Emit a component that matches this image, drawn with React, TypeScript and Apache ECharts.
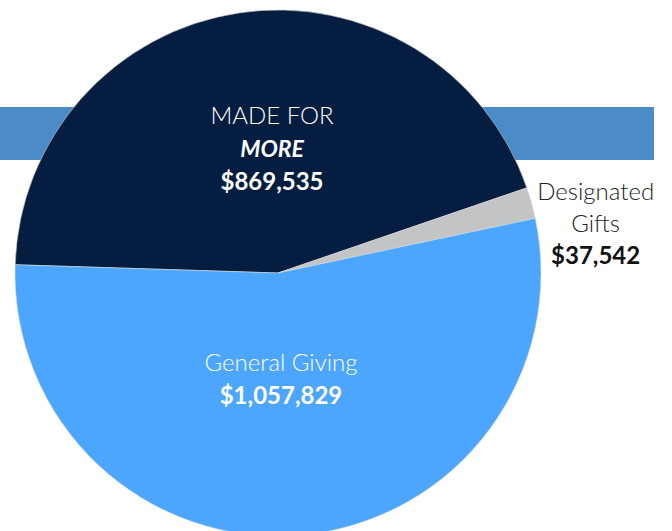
import React, { useEffect, useRef } from "react";
import * as echarts from "echarts";

const categories = ["MADE FOR MORE", "Designated Gifts", "General Giving"];
const values = [869535, 37542, 1057829];

const sliceColors = ["#041d40", "#c3c4c6", "#4ca6fe"];
const FONT = "Lato, 'Open Sans', sans-serif";

const fmt = (v: number) => "$" + v.toLocaleString("en-US");

export default function App() {
  const ref = useRef<HTMLDivElement>(null);
  useEffect(() => {
    document.body.style.margin = "0";
    const chart = echarts.init(ref.current!, undefined, { renderer: "svg" });
    const labelCfg = [
      {
        position: "inside",
        offset: [14, 8],
        formatter: (p: any) => `{l|MADE FOR}\n{bi|MORE}\n{b|${fmt(p.value)}}`,
        rich: {
          l: { color: "#fff", fontSize: 24, fontWeight: 300, fontFamily: FONT, lineHeight: 33 },
          bi: { color: "#fff", fontSize: 23, fontWeight: "bold", fontStyle: "italic", fontFamily: FONT, lineHeight: 33 },
          b: { color: "#fff", fontSize: 24, fontWeight: "bold", fontFamily: FONT, lineHeight: 33 },
        },
      },
      {
        position: "inside",
        offset: [188, -15],
        formatter: (p: any) => `{l|Designated}\n{l|Gifts}\n{b|${fmt(p.value)}}`,
        rich: {
          l: { color: "#222", fontSize: 24, fontWeight: 300, fontFamily: FONT, lineHeight: 32 },
          b: { color: "#111", fontSize: 24, fontWeight: "bold", fontFamily: FONT, lineHeight: 32 },
        },
      },
      {
        position: "inside",
        offset: [-9, -29],
        formatter: (p: any) => `{l|General Giving}\n{b|${fmt(p.value)}}`,
        rich: {
          l: { color: "#fff", fontSize: 24, fontWeight: 300, fontFamily: FONT, lineHeight: 33 },
          b: { color: "#fff", fontSize: 24, fontWeight: "bold", fontFamily: FONT, lineHeight: 33 },
        },
      },
    ];
    chart.setOption({
      animation: false,
      graphic: [
        {
          type: "rect",
          z: -10,
          shape: { x: 0, y: 107, width: 654, height: 53 },
          style: { fill: "#4a8bc8" },
        },
      ],
      series: [
        {
          type: "pie",
          center: [278, 273],
          radius: 263,
          startAngle: 178.2,
          clockwise: true,
          silent: true,
          labelLine: { show: false },
          itemStyle: { borderColor: "#d8d8d8", borderWidth: 0.6 },
          data: categories.map((name, i) => ({
            name,
            value: values[i],
            itemStyle: { color: sliceColors[i] },
            label: { show: true, ...labelCfg[i] },
          })),
        },
      ],
    });
    return () => chart.dispose();
  }, []);
  return <div ref={ref} style={{ width: 672, height: 531 }} />;
}
